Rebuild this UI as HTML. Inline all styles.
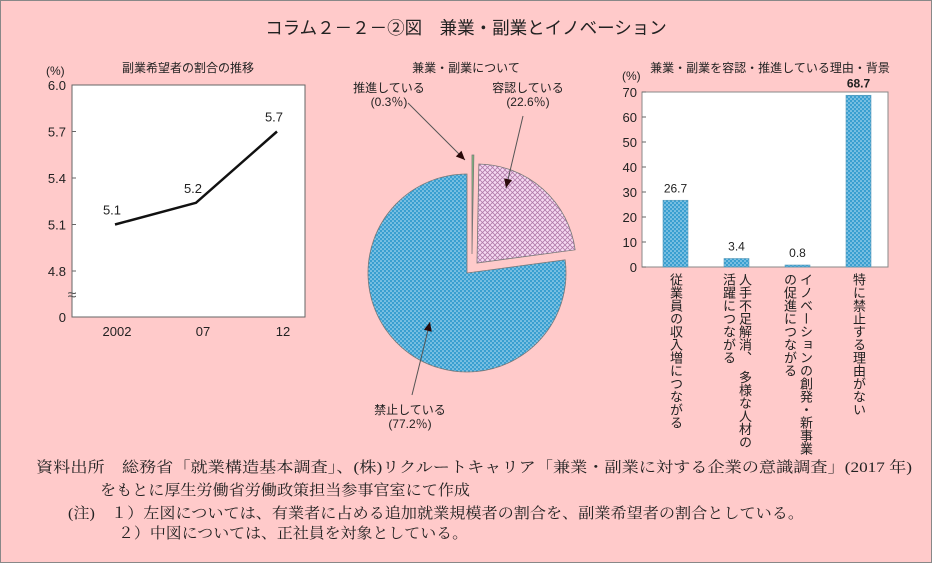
<!DOCTYPE html>
<html><head><meta charset="utf-8">
<style>
html,body{margin:0;padding:0;background:#ffcaca;}
svg{display:block;}
.s{font-family:"Liberation Sans","Noto Sans CJK JP",sans-serif;}
.m{font-family:"Liberation Serif","Noto Serif CJK SC",serif;}
</style></head>
<body>
<svg width="932" height="563" viewBox="0 0 932 563" xmlns="http://www.w3.org/2000/svg">
<defs>
<pattern id="dots" width="4" height="4" patternUnits="userSpaceOnUse">
<rect width="4" height="4" fill="#3a9fd0"/>
<circle cx="1" cy="1" r="0.8" fill="#bfe3f5"/><circle cx="3" cy="3" r="0.8" fill="#bfe3f5"/>
</pattern>
<pattern id="cross" width="5" height="5" patternUnits="userSpaceOnUse">
<rect width="5" height="5" fill="#f6d9f2"/>
<path d="M0 0L5 5M5 0L0 5" stroke="#b07aa8" stroke-width="0.8"/>
</pattern>
</defs>
<rect x="0.5" y="0.5" width="931" height="562" fill="#ffcaca" stroke="#888"/>
<text x="466" y="34" text-anchor="middle" font-size="17.5" class="s" fill="#222">コラム２－２－②図　兼業・副業とイノベーション</text>

<g id="left"></g>
<g id="pie"></g>
<g id="bar"></g>

<g class="m" font-size="15" fill="#222">
<text x="36" y="472" textLength="876" lengthAdjust="spacingAndGlyphs">資料出所　総務省「就業構造基本調査」、(株)リクルートキャリア「兼業・副業に対する企業の意識調査」(2017 年)</text>
<text x="100" y="495" textLength="370" lengthAdjust="spacingAndGlyphs">をもとに厚生労働省労働政策担当参事官室にて作成</text>
<text x="68" y="518" textLength="736" lengthAdjust="spacingAndGlyphs">(注)　１）左図については、有業者に占める追加就業規模者の割合を、副業希望者の割合としている。</text>
<text x="118" y="538" textLength="350" lengthAdjust="spacingAndGlyphs">２）中図については、正社員を対象としている。</text>
</g>
</svg>
<script>
const NS="http://www.w3.org/2000/svg";
function mk(parent,tag,attrs,txt){const e=document.createElementNS(NS,tag);for(const k in attrs)e.setAttribute(k,attrs[k]);if(txt!==undefined)e.textContent=txt;parent.appendChild(e);return e;}

// ---- line chart data
const lineYears=["2002","07","12"];
const lineValues=[5.1,5.24,5.7];
const lineLabels=["5.1","5.2","5.7"];
const lineTicks=[4.8,5.1,5.4,5.7,6.0];
const lineTickLabels=["4.8","5.1","5.4","5.7","6.0"];

// ---- pie data
const pieNames=["推進している","容認している","禁止している"];
const pieValues=[0.3,22.6,77.2];

// ---- bar data
const barCats=[["従業員の収入増につながる"],["人手不足解消、　多様な人材の","活躍につながる"],["イノベーションの創発・新事業","の促進につながる"],["特に禁止する理由がない"]];
const barValues=[26.7,3.4,0.8,68.7];
const barTicks=[0,10,20,30,40,50,60,70];

(function(){
 const g=document.getElementById('left');
 const x0=72,x1=305,yTop=85,yBot=317;
 const ys=v=>271-(v-4.8)/0.3*46.5;
 const xs=i=>115+i*81;
 mk(g,'rect',{x:x0,y:yTop,width:x1-x0,height:yBot-yTop,fill:'#fff',stroke:'#666','stroke-width':1});
 let t=mk(g,'text',{x:46,y:75,'font-size':12,class:'s',fill:'#222'},'(%)');
 
 t=mk(g,'text',{x:188,y:72,'font-size':12,class:'s','text-anchor':'middle',fill:'#222'},'副業希望者の割合の推移');
 
 lineTicks.forEach((v,i)=>{const l=mk(g,'text',{x:66,y:ys(v)+5,'font-size':13,class:'s','text-anchor':'end',fill:'#222'},lineTickLabels[i]);
  
  mk(g,'line',{x1:x0,x2:x0+4,y1:ys(v),y2:ys(v),stroke:'#666'});});
 t=mk(g,'text',{x:66,y:yBot+5,'font-size':13,class:'s','text-anchor':'end',fill:'#222'},'0');
 
 t=mk(g,'text',{x:72,y:300,'font-size':16,class:'s','text-anchor':'middle',fill:'#555'},'≈');
 
 const pts=lineValues.map((v,i)=>xs(i)+','+ys(v)).join(' ');
 const pl=mk(g,'polyline',{points:pts,fill:'none',stroke:'#111','stroke-width':2.5});
 
 lineValues.forEach((v,i)=>{const l=mk(g,'text',{x:xs(i)-3,y:ys(v)-10,'font-size':13,class:'s','text-anchor':'middle',fill:'#222'},lineLabels[i]);
  
  const x=mk(g,'text',{x:[117,203,283][i],y:336,'font-size':13,class:'s','text-anchor':'middle',fill:'#222'},lineYears[i]);
  });
})();

(function(){
 const g=document.getElementById('pie');
 const r=99;
 const total=pieValues.reduce((a,b)=>a+b,0);
 const offs=[[472,254],[477,263],[467,273]];
 const fills=['#7fc97f','url(#cross)','url(#dots)'];
 let t=mk(g,'text',{x:466,y:72,'font-size':12,class:'s','text-anchor':'middle',fill:'#222'},'兼業・副業について');
 
 let a=0;
 pieValues.forEach((v,i)=>{
  const a0=a,a1=a+v/total*2*Math.PI;a=a1;
  const [cx,cy]=offs[i];
  const p=(ang)=>[cx+r*Math.sin(ang),cy-r*Math.cos(ang)];
  const s=p(a0),e=p(a1),large=(a1-a0)>Math.PI?1:0;
  const path=mk(g,'path',{d:`M${cx},${cy}L${s[0]},${s[1]}A${r},${r} 0 ${large} 1 ${e[0]},${e[1]}Z`,fill:fills[i],stroke:'#777','stroke-width':0.8});
  
 });
 const labels=[[389,92,'推進している','(0.3％)'],[528,92,'容認している','(22.6％)'],[410,414,'禁止している','(77.2％)']];
 labels.forEach((L,i)=>{const a=mk(g,'text',{x:L[0],y:L[1],'font-size':12,class:'s','text-anchor':'middle',fill:'#222'},L[2]+' ');
  
  const b=mk(g,'text',{x:L[0],y:L[1]+14,'font-size':12,class:'s','text-anchor':'middle',fill:'#222'},L[3]);
  });
 const arrows=[[408,103,465,160],[523,116,506,188],[412,395,430,322]];
 arrows.forEach(A=>{const l=mk(g,'line',{x1:A[0],y1:A[1],x2:A[2],y2:A[3],stroke:'#555','stroke-width':1});
  
  const ang=Math.atan2(A[3]-A[1],A[2]-A[0]);const L=9,W=4;
  const bx=A[2]-L*Math.cos(ang),by=A[3]-L*Math.sin(ang);
  mk(g,'polygon',{points:`${A[2]},${A[3]} ${bx-W*Math.sin(ang)},${by+W*Math.cos(ang)} ${bx+W*Math.sin(ang)},${by-W*Math.cos(ang)}`,fill:'#2a0a0a'});});
})();

(function(){
 const g=document.getElementById('bar');
 const x0=642,x1=888,yTop=92,yBot=267;
 const ys=v=>yBot-v/70*(yBot-yTop);
 const bw=25;const xs=i=>663+i*61;
 mk(g,'rect',{x:x0,y:yTop,width:x1-x0,height:yBot-yTop,fill:'#fff',stroke:'#888'});
 let t=mk(g,'text',{x:770,y:72,'font-size':12,class:'s','text-anchor':'middle',fill:'#222'},'兼業・副業を容認・推進している理由・背景');
 
 t=mk(g,'text',{x:622,y:80,'font-size':12,class:'s',fill:'#222'},'(%)');
 
 barTicks.forEach(v=>{const l=mk(g,'text',{x:637,y:ys(v)+5,'font-size':13,class:'s','text-anchor':'end',fill:'#222'},String(v));
  
  mk(g,'line',{x1:x0,x2:x0+4,y1:ys(v),y2:ys(v),stroke:'#666'});});
 barValues.forEach((v,i)=>{
  const b=mk(g,'rect',{x:xs(i),y:ys(v),width:bw,height:yBot-ys(v),fill:'url(#dots)',stroke:'#5a9ab8','stroke-width':0.6});
  
  const l=mk(g,'text',{x:xs(i)+bw/2,y:ys(v)-8,'font-size':12,class:'s','text-anchor':'middle',fill:'#222','font-weight':i==3?'bold':'normal'},v.toFixed(1));
  
  const lines=barCats[i];const n=lines.length;
  lines.forEach((s,j)=>{const cx=xs(i)+bw/2+((n-1)/2-j)*16;
   const c=mk(g,'text',{x:cx,y:273,'font-size':13,class:'s',fill:'#222',style:'writing-mode:vertical-rl;text-orientation:upright'},s);
   });
 });
})();
</script>
</body></html>
